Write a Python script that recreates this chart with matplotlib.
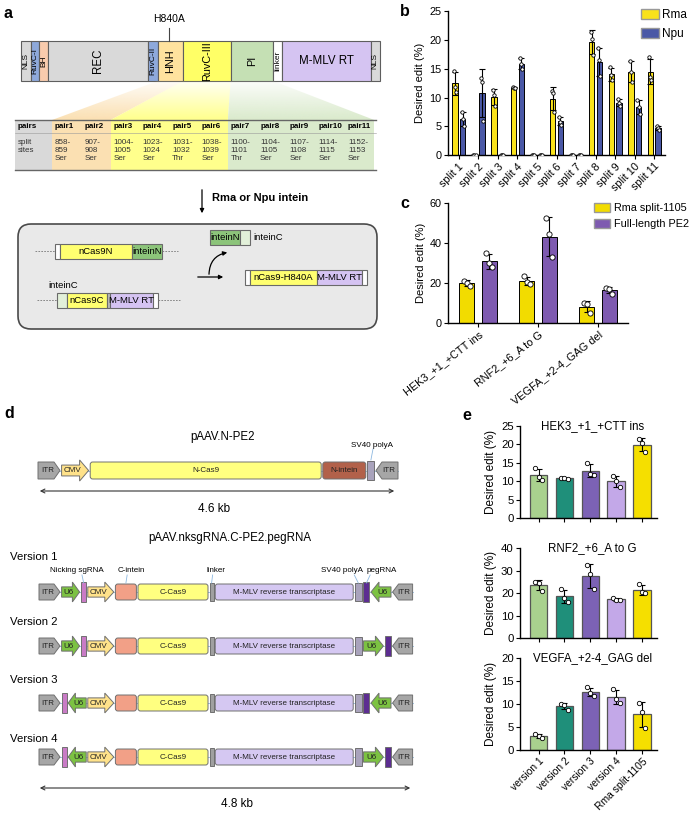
import numpy as np
import matplotlib.pyplot as plt
from matplotlib.patches import Rectangle, Polygon, FancyBboxPatch, FancyArrowPatch

plt.rcParams['font.family'] = ['Liberation Sans', 'DejaVu Sans']

# ---------------- data ----------------
# panel a: domain map of PE2 (relative lengths)
DOMAINS = ['NLS', 'RuvC-I', 'BH', 'REC', 'RuvC-II', 'HNH', 'RuvC-III', 'PI', 'linker', 'M-MLV RT', 'NLS']
DOMAIN_LEN = [9.7, 8.6, 9, 100, 9.4, 25, 48, 42.6, 8.7, 88.7, 9.3]
DOMAIN_COL = ['#D9D9D9', '#8EA9DB', '#F8CBAD', '#D9D9D9', '#8EA9DB', '#FFE29E',
              '#FFFF66', '#C5E0B4', '#FFFFFF', '#D5C4F2', '#D9D9D9']
PAIRS = [f'pair{i}' for i in range(1, 12)]
SITES = ['858-\n859\nSer', '907-\n908\nSer', '1004-\n1005\nSer', '1023-\n1024\nSer',
         '1031-\n1032\nThr', '1038-\n1039\nSer', '1100-\n1101\nThr', '1104-\n1105\nSer',
         '1107-\n1108\nSer', '1114-\n1115\nSer', '1152-\n1153\nSer']
PAIR_GROUP = [0, 0, 1, 1, 1, 1, 2, 2, 2, 2, 2]
GROUP_COL = ['#FBE0B2', '#FFFF8C', '#DAEACC']

# panel b: replicates, desired edit (%)
SPLITS = [f'split {i}' for i in range(1, 12)]
RMA_B = [[14.7, 11.9, 10.9], [0, 0, 0], [11.3, 10.5, 8.6], [11.8, 11.7, 11.6], [0, 0, 0],
         [11.2, 10.8, 7.5], [0, 0, 0], [21.5, 20.2, 17.4], [15.3, 13.9, 13.0],
         [16.4, 14.5, 12.7], [17.0, 13.6, 13.0]]
NPU_B = [[7.5, 6.3, 5.1], [13.5, 12.8, 6.0], [0, 0, 0], [16.9, 15.8, 15.0], [0, 0, 0],
         [6.6, 5.8, 5.3], [0, 0, 0], [18.6, 16.5, 13.7], [9.8, 9.0, 8.6],
         [9.5, 8.4, 7.1], [5.1, 4.7, 4.4]]

# panel c
SITES_C = ['HEK3_+1_+CTT ins', 'RNF2_+6_A to G', 'VEGFA_+2-4_GAG del']
RMA_C = [[21.3, 20.3, 18.5], [23.5, 20.5, 19.8], [9.9, 9.6, 5.0]]
PE2_C = [[35.0, 30.0, 28.0], [52.5, 44.5, 33.0], [17.5, 17.2, 14.8]]

# panel e
VERSIONS = ['version 1', 'version 2', 'version 3', 'version 4', 'Rma split-1105']
E_COL = ['#A9D18E', '#1F8F7A', '#7C62B5', '#C3A8E8', '#F5DF00']
E_TITLES = ['HEK3_+1_+CTT ins', 'RNF2_+6_A to G', 'VEGFA_+2-4_GAG del']
E_YMAX = [25, 40, 20]
E_STEP = [5, 10, 5]
E_DATA = [
    [[13.5, 11.2, 10.4], [11.0, 10.8, 10.6], [15.0, 12.0, 11.7], [11.5, 10.0, 8.5], [21.5, 20.3, 18.0]],
    [[25.0, 24.5, 21.0], [21.8, 17.8, 16.0], [32.5, 28.5, 22.0], [17.9, 17.0, 16.8], [23.8, 20.3, 19.8]],
    [[3.5, 3.0, 2.6], [10.0, 9.7, 8.8], [13.6, 12.4, 11.8], [13.2, 11.0, 10.3], [10.2, 8.2, 4.8]],
]

# panel d colours
ITR_C, CMV_C, U6_C = '#A6A6A6', '#FFE28A', '#7CC242'
PINK, PURPLE, SV40_C = '#C97BC6', '#5C2D91', '#A9A3BC'
LINK_C, CINT_C, CAS9_C, RT_C, NINT_C = '#A0A0A0', '#F2A087', '#FFFF80', '#D5C8F2', '#B2614A'

N_PE2 = [('itr_r', 'ITR', 22, ITR_C), ('arr_r', 'CMV', 27, CMV_C), ('rbox', 'N-Cas9', 231, CAS9_C),
         ('rbox', 'N-intein', 43, NINT_C), ('box', '', 7, SV40_C), ('itr_l', 'ITR', 22, ITR_C)]
MID = [('arr_r', 'CMV', 26, CMV_C), ('rbox', '', 21, CINT_C), ('rbox', 'C-Cas9', 70, CAS9_C),
       ('box', '', 4, LINK_C), ('rbox', 'M-MLV reverse transcriptase', 138, RT_C), ('box', '', 7, SV40_C)]
START_FWD = [('itr_r', 'ITR', 21, ITR_C), ('arr_r', 'U6', 18, U6_C), ('bar', '', 5, PINK)]
START_REV = [('itr_r', 'ITR', 21, ITR_C), ('bar', '', 5, PINK), ('arr_l', 'U6', 18, U6_C)]
END_REV = [('bar', '', 6, PURPLE), ('arr_l', 'U6', 20, U6_C), ('itr_l', 'ITR', 20, ITR_C)]
END_FWD = [('arr_r', 'U6', 20, U6_C), ('bar', '', 6, PURPLE), ('itr_l', 'ITR', 20, ITR_C)]
VERSION_ROWS = [START_FWD + MID + END_REV, START_FWD + MID + END_FWD,
                START_REV + MID + END_REV, START_REV + MID + END_FWD]

# ---------------- figure ----------------
W, H = 690, 813
fig = plt.figure(figsize=(W / 100, H / 100), dpi=100)
bg = fig.add_axes([0, 0, 1, 1])
bg.axis('off')


def px_axes(left, top, right, bottom):
    return fig.add_axes([left / W, 1 - bottom / H, (right - left) / W, (bottom - top) / H])


EDGE = '#5E5E5E'
for lab, x, y in [('a', 4, 13), ('b', 400, 12), ('c', 400, 203), ('d', 4, 413), ('e', 462, 415)]:
    bg.text(x, y, lab, fontsize=11.5, fontweight='bold', va='center')

# ---- panel a: domain bar
x = 21
dom_x = []
for name, w, c in zip(DOMAINS, DOMAIN_LEN, DOMAIN_COL):
    bg.add_patch(Rectangle((x, 41), w, 40, fc=c, ec=EDGE, lw=0.8))
    rot = 0 if name == 'M-MLV RT' else 90
    fs = 8.3 if w > 60 else (7.8 if w > 20 else 6)
    bg.text(x + w / 2, 61, name, rotation=rot, ha='center', va='center', fontsize=fs)
    dom_x.append((x, x + w))
    x += w
bg.plot([169, 169], [28, 41], color='#444', lw=0.8)
bg.text(169, 19, 'H840A', ha='center', va='center', fontsize=7.5)

# fans linking domains to table columns
col0, colw = 52, 29.3
fan_src = [dom_x[5], dom_x[6], dom_x[7]]
for g, (sx0, sx1) in enumerate(fan_src):
    cols = [i for i, pg in enumerate(PAIR_GROUP) if pg == g]
    tx0, tx1 = col0 + cols[0] * colw, col0 + (cols[-1] + 1) * colw
    poly = Polygon([(sx0, 81), (sx1, 81), (tx1, 120), (tx0, 120)], closed=True, fc='none', ec='none')
    bg.add_patch(poly)
    rgb = np.array(plt.matplotlib.colors.to_rgb(GROUP_COL[g]))
    grad = np.zeros((64, 1, 4))
    grad[:, 0, :3] = rgb
    grad[:, 0, 3] = np.linspace(0.1, 1.0, 64)
    im = bg.imshow(grad, extent=(min(sx0, tx0), max(sx1, tx1), 120, 81), origin='upper',
                   aspect='auto', zorder=1)
    im.set_clip_path(poly)

# table
bg.add_patch(Rectangle((15, 120), col0 - 15, 50, fc='#D9D9D9', ec='none'))
for i, (p, s) in enumerate(zip(PAIRS, SITES)):
    cx = col0 + i * colw
    bg.add_patch(Rectangle((cx, 120), colw, 50, fc=GROUP_COL[PAIR_GROUP[i]], ec='none'))
    bg.text(cx + 3, 127, p, fontsize=5.8, fontweight='bold', va='center')
    bg.text(cx + 3, 138.5, s, fontsize=5.8, va='top', linespacing=1.25, color='#333')
bg.text(18, 127, 'pairs', fontsize=5.8, fontweight='bold', va='center')
bg.text(18, 138.5, 'split\nsites', fontsize=5.8, va='top', linespacing=1.25, color='#333')
bg.plot([15, 376], [120, 120], color='#666', lw=1.0)
bg.plot([15, 376], [133, 133], color='#999', lw=0.4)
bg.plot([15, 376], [170, 170], color='#666', lw=1.0)

# arrow and intein text
bg.annotate('', xy=(202, 216), xytext=(202, 187),
            arrowprops=dict(arrowstyle='-|>', color='black', lw=0.9, mutation_scale=6))
bg.text(212, 198, 'Rma or Npu intein', fontsize=8, fontweight='bold', va='center')

# splicing box
bg.add_patch(FancyBboxPatch((18, 224), 359, 105, boxstyle='round,pad=0,rounding_size=13',
                            fc='#E9E9E9', ec='#4A4A4A', lw=1.2))


def seg_row(x0, yc, segs, h=15):
    xx = x0
    for lab, w, c in segs:
        bg.add_patch(Rectangle((xx, yc - h / 2), w, h, fc=c, ec='#6A6A6A', lw=0.8))
        if lab:
            bg.text(xx + w / 2, yc, lab, fontsize=6.8, ha='center', va='center')
        xx += w
    return xx


GREEN_N, GREEN_C, YEL = '#8CC47A', '#E2F0D9', '#FFFF70'
bg.plot([35, 55], [251.5, 251.5], color='#777', lw=0.6, ls=(0, (2, 1.5)))
end = seg_row(55, 251.5, [('', 5, 'white'), ('nCas9N', 72, YEL), ('inteinN', 30, GREEN_N)])
bg.plot([end, end + 16], [251.5, 251.5], color='#777', lw=0.6, ls=(0, (2, 1.5)))
seg_row(210, 237.5, [('inteinN', 30, GREEN_N), ('', 10, GREEN_C)])
bg.text(253, 237.5, 'inteinC', fontsize=6.8, va='center')
seg_row(245, 277.5, [('', 5, 'white'), ('nCas9-H840A', 67, YEL), ('M-MLV RT', 45, '#D5C3F2'), ('', 5, 'white')])
bg.text(48, 285, 'inteinC', fontsize=6.8, va='center')
bg.plot([37, 57], [300, 300], color='#777', lw=0.6, ls=(0, (2, 1.5)))
end = seg_row(57, 300, [('', 10, GREEN_C), ('nCas9C', 40, YEL), ('', 3, '#BBBBBB'),
                        ('M-MLV RT', 43, '#D5C3F2'), ('', 5, 'white')])
bg.plot([end, end + 22], [300, 300], color='#777', lw=0.6, ls=(0, (2, 1.5)))
bg.annotate('', xy=(226, 277), xytext=(195, 277),
            arrowprops=dict(arrowstyle='-|>', color='black', lw=0.9, mutation_scale=6))
bg.add_patch(FancyArrowPatch((209, 277), (230, 252), connectionstyle='arc3,rad=-0.45',
                             arrowstyle='-|>', mutation_scale=6, lw=0.9, color='black'))


# ---- panel d: AAV constructs
def construct(x0, yc, elems, h=16, gap=1.6):
    total = sum(e[2] for e in elems) + gap * (len(elems) - 1)
    bg.plot([x0, x0 + total], [yc, yc], color='#8DB8E0', lw=0.6, zorder=1)
    xx = x0
    centers = []
    for kind, lab, w, fc in elems:
        ec, lw = '#707070', 0.7
        if kind == 'itr_r':
            pts = [(xx, yc - h / 2), (xx + w - 6, yc - h / 2), (xx + w, yc), (xx + w - 6, yc + h / 2), (xx, yc + h / 2)]
            bg.add_patch(Polygon(pts, fc=fc, ec=ec, lw=lw, zorder=2))
            tx = xx + (w - 3) / 2
        elif kind == 'itr_l':
            pts = [(xx + w, yc - h / 2), (xx + 6, yc - h / 2), (xx, yc), (xx + 6, yc + h / 2), (xx + w, yc + h / 2)]
            bg.add_patch(Polygon(pts, fc=fc, ec=ec, lw=lw, zorder=2))
            tx = xx + 3 + (w - 3) / 2
        elif kind in ('arr_r', 'arr_l'):
            b, hh, hl = 0.32 * h, 0.62 * h, min(9, 0.4 * w)
            pts = [(0, -b), (w - hl, -b), (w - hl, -hh), (w, 0), (w - hl, hh), (w - hl, b), (0, b)]
            if kind == 'arr_r':
                pts = [(xx + px, yc + py) for px, py in pts]
                tx = xx + (w - hl) / 2 + 2
            else:
                pts = [(xx + w - px, yc + py) for px, py in pts]
                tx = xx + hl + (w - hl) / 2 - 2
            bg.add_patch(Polygon(pts, fc=fc, ec=ec, lw=lw, zorder=2))
        elif kind == 'bar':
            bg.add_patch(Rectangle((xx, yc - 0.6 * h), w, 1.2 * h, fc=fc, ec=ec, lw=lw, zorder=2))
            tx = xx + w / 2
        elif kind == 'box':
            bg.add_patch(Rectangle((xx, yc - 0.55 * h), w, 1.1 * h, fc=fc, ec=ec, lw=lw, zorder=2))
            tx = xx + w / 2
        else:
            bg.add_patch(FancyBboxPatch((xx, yc - h / 2), w, h, boxstyle='round,pad=0,rounding_size=2.5',
                                        fc=fc, ec=ec, lw=lw, zorder=2))
            tx = xx + w / 2
        if lab:
            bg.text(tx, yc, lab, fontsize=5.8, ha='center', va='center', color='#222', zorder=3)
        centers.append(xx + w / 2)
        xx += w + gap
    return centers


bg.text(223, 437, 'pAAV.N-PE2', fontsize=8.3, ha='center', va='center')
cN = construct(38, 470.5, N_PE2, h=17)
bg.text(372, 445, 'SV40 polyA', fontsize=5.8, ha='center', va='center')
bg.plot([373, cN[4]], [449, 460], color='#8DB8E0', lw=0.6)
bg.annotate('', xy=(397, 491), xytext=(37, 491),
            arrowprops=dict(arrowstyle='<->', color='#333', lw=0.8, mutation_scale=7))
bg.text(214, 509, '4.6 kb', fontsize=8.5, ha='center', va='center')

bg.text(230, 538, 'pAAV.nksgRNA.C-PE2.pegRNA', fontsize=8.3, ha='center', va='center')
ROW_Y = [592, 646, 703, 757]
LAB_Y = [557, 622, 680, 739]
for k, (elems, yc, ly) in enumerate(zip(VERSION_ROWS, ROW_Y, LAB_Y)):
    bg.text(10, ly, f'Version {k + 1}', fontsize=8.2, va='center')
    cs = construct(39, yc, elems)
    if k == 0:
        for idx, lab, dx in [(2, 'Nicking sgRNA', -7), (4, 'C-intein', 5), (6, 'linker', 4),
                             (8, 'SV40 polyA', -16), (9, 'pegRNA', 15)]:
            bg.text(cs[idx] + dx, 570.5, lab, fontsize=5.8, ha='center', va='center')
            bg.plot([cs[idx] + dx * 0.25, cs[idx]], [575, yc - 9], color='#8DB8E0', lw=0.6)
bg.annotate('', xy=(413, 788), xytext=(37, 788),
            arrowprops=dict(arrowstyle='<->', color='#333', lw=0.8, mutation_scale=7))
bg.text(237, 804, '4.8 kb', fontsize=8.5, ha='center', va='center')

bg.set_xlim(0, W)
bg.set_ylim(H, 0)


# ---------------- bar charts ----------------
def style(ax, fs=7.5):
    for s in ['top', 'right']:
        ax.spines[s].set_visible(False)
    for s in ['left', 'bottom']:
        ax.spines[s].set_linewidth(1.0)
    ax.tick_params(labelsize=fs, width=0.8, length=3, pad=1.5)


def bars(ax, xs, reps, width, color, edge='black', s=5, lw=0.7):
    reps = np.array(reps, float)
    mean = reps.mean(axis=1)
    sd = reps.std(axis=1, ddof=1)
    ax.bar(xs, mean, width, color=color, edgecolor=edge, lw=lw, zorder=2)
    ax.errorbar(xs, mean, yerr=sd, fmt='none', ecolor='black', elinewidth=0.8,
                capsize=2, capthick=0.8, zorder=3)
    offs = np.array([-0.2, 0.0, 0.2]) * width
    for x0, r in zip(xs, reps):
        ax.scatter(x0 + offs, r, s=s, facecolor='white', edgecolor='black', lw=0.6, zorder=4)


# panel b
axb = px_axes(448, 11.5, 665, 155)
xb = np.arange(len(SPLITS))
bars(axb, xb - 0.195, RMA_B, 0.27, '#F9E21B', s=6)
bars(axb, xb + 0.195, NPU_B, 0.27, '#4A58A6', s=6)
axb.set_xlim(-0.55, 10.55)
axb.set_ylim(0, 25)
axb.set_yticks(range(0, 26, 5))
axb.set_xticks(xb)
axb.set_xticklabels(SPLITS, rotation=45, ha='right', rotation_mode='anchor')
axb.set_ylabel('Desired edit (%)', fontsize=8, labelpad=3)
style(axb, fs=7.8)
axb.legend([Rectangle((0, 0), 1, 1, fc='#F9E21B', ec='#999'), Rectangle((0, 0), 1, 1, fc='#4A58A6', ec='#999')],
           ['Rma', 'Npu'], loc='upper left', bbox_to_anchor=(641 / W, 1 - 9 / H), bbox_transform=fig.transFigure,
           frameon=False, fontsize=8.5, handlelength=1.5, handleheight=0.95, borderpad=0, borderaxespad=0,
           labelspacing=0.6, handletextpad=0.3)

# panel c
axc = px_axes(448, 203.3, 628, 323.3)
xc = np.arange(len(SITES_C))
bars(axc, xc - 0.19, RMA_C, 0.245, '#F2DC00', s=14)
bars(axc, xc + 0.19, PE2_C, 0.245, '#7E5AB0', s=14)
axc.set_xlim(-0.5, 2.5)
axc.set_ylim(0, 60)
axc.set_yticks([0, 20, 40, 60])
axc.set_xticks(xc)
axc.set_xticklabels(SITES_C, rotation=38, ha='right', rotation_mode='anchor', fontsize=8)
axc.set_ylabel('Desired edit (%)', fontsize=8, labelpad=3)
style(axc, fs=7.8)
axc.legend([Rectangle((0, 0), 1, 1, fc='#F2DC00', ec='#999'), Rectangle((0, 0), 1, 1, fc='#7E5AB0', ec='#999')],
           ['Rma split-1105', 'Full-length PE2'], loc='upper left', bbox_to_anchor=(594 / W, 1 - 203 / H),
           bbox_transform=fig.transFigure, frameon=False, fontsize=7.8, handlelength=1.5, handleheight=0.95,
           borderpad=0, borderaxespad=0, labelspacing=0.5, handletextpad=0.3)

# panel e
E_BOX = [(426, 518), (548, 638), (658, 750)]
xe = np.arange(len(VERSIONS))
for k, (top, bot) in enumerate(E_BOX):
    ax = px_axes(520, top, 657, bot)
    bars(ax, xe, E_DATA[k], 0.67, E_COL, edge='#555555', s=10, lw=0.9)
    ax.set_xlim(-0.72, 4.58)
    ax.set_ylim(0, E_YMAX[k])
    ax.set_yticks(range(0, E_YMAX[k] + 1, E_STEP[k]))
    ax.set_xticks(xe)
    ax.set_ylabel('Desired edit (%)', fontsize=8.5, labelpad=3)
    ax.text(0.53, 1.0, E_TITLES[k], transform=ax.transAxes, ha='center', va='center', fontsize=8.3)
    style(ax, fs=8.2)
    if k < 2:
        ax.set_xticklabels([])
    else:
        ax.set_xticklabels(VERSIONS, rotation=45, ha='right', rotation_mode='anchor', fontsize=7.4)

fig.savefig('out.png', dpi=100)
